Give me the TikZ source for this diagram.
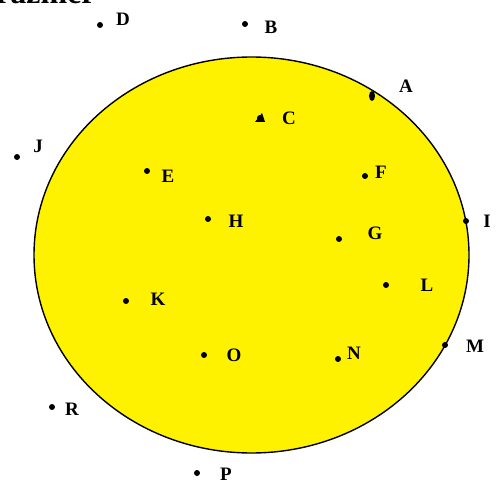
\documentclass[tikz,border=0pt]{standalone}
\usepackage{fontspec}
\setmainfont{Liberation Serif}
\usetikzlibrary{shapes.geometric}
\begin{document}
\begin{tikzpicture}[x=1pt,y=-1pt,
  pt/.style={circle,fill=black,inner sep=0pt,minimum size=6pt},
  lab/.style={font=\bfseries\fontsize{19}{19}\selectfont,inner sep=0pt}]
\useasboundingbox (0,0) rectangle (503,486);
\filldraw[fill=yellow,draw=black,line width=1.4pt] (251.5,255) ellipse [x radius=217.5pt, y radius=198pt];
\node[anchor=base west,font=\bfseries\fontsize{32}{32}\selectfont,inner sep=0pt] (title) at (-4,4) {razmer};
% points
\node[pt] (D) at (100,25) {};  \node[lab] (lD) at (123,19) {D};
\node[pt] (B) at (245,24) {};  \node[lab] (lB) at (271,27) {B};
\node[fill=black,ellipse,inner sep=0pt,minimum width=6pt,minimum height=10pt] (A) at (372,96) {}; \node[lab] (lA) at (406,86) {A};
\fill (262,113) -- (265,122) -- (255,122) -- cycle;
\node[pt] (C) at (260,118) {}; \node[lab] (lC) at (289,118) {C};
\node[pt] (J) at (17,157) {};  \node[lab] (lJ) at (38,146) {J};
\node[pt] (E) at (147,171) {}; \node[lab] (lE) at (168,176) {E};
\node[pt] (F) at (365,176) {}; \node[lab] (lF) at (381,172) {F};
\node[pt] (H) at (208,219) {}; \node[lab] (lH) at (236,221) {H};
\node[pt] (I) at (466,221) {}; \node[lab] (lI) at (487,221) {I};
\node[pt] (G) at (339,239) {}; \node[lab] (lG) at (375,233) {G};
\node[pt] (L) at (386,285) {}; \node[lab] (lL) at (427,285) {L};
\node[pt] (K) at (126,301) {}; \node[lab] (lK) at (158,299) {K};
\node[pt] (M) at (445,345) {}; \node[lab] (lM) at (475,346) {M};
\node[pt] (O) at (204,355) {}; \node[lab] (lO) at (234,355) {O};
\node[pt] (N) at (338,359) {}; \node[lab] (lN) at (354,353) {N};
\node[pt] (R) at (52,407) {};  \node[lab] (lR) at (72,409) {R};
\node[pt] (P) at (197,473) {}; \node[lab] (lP) at (226,474) {P};
\end{tikzpicture}
\end{document}
